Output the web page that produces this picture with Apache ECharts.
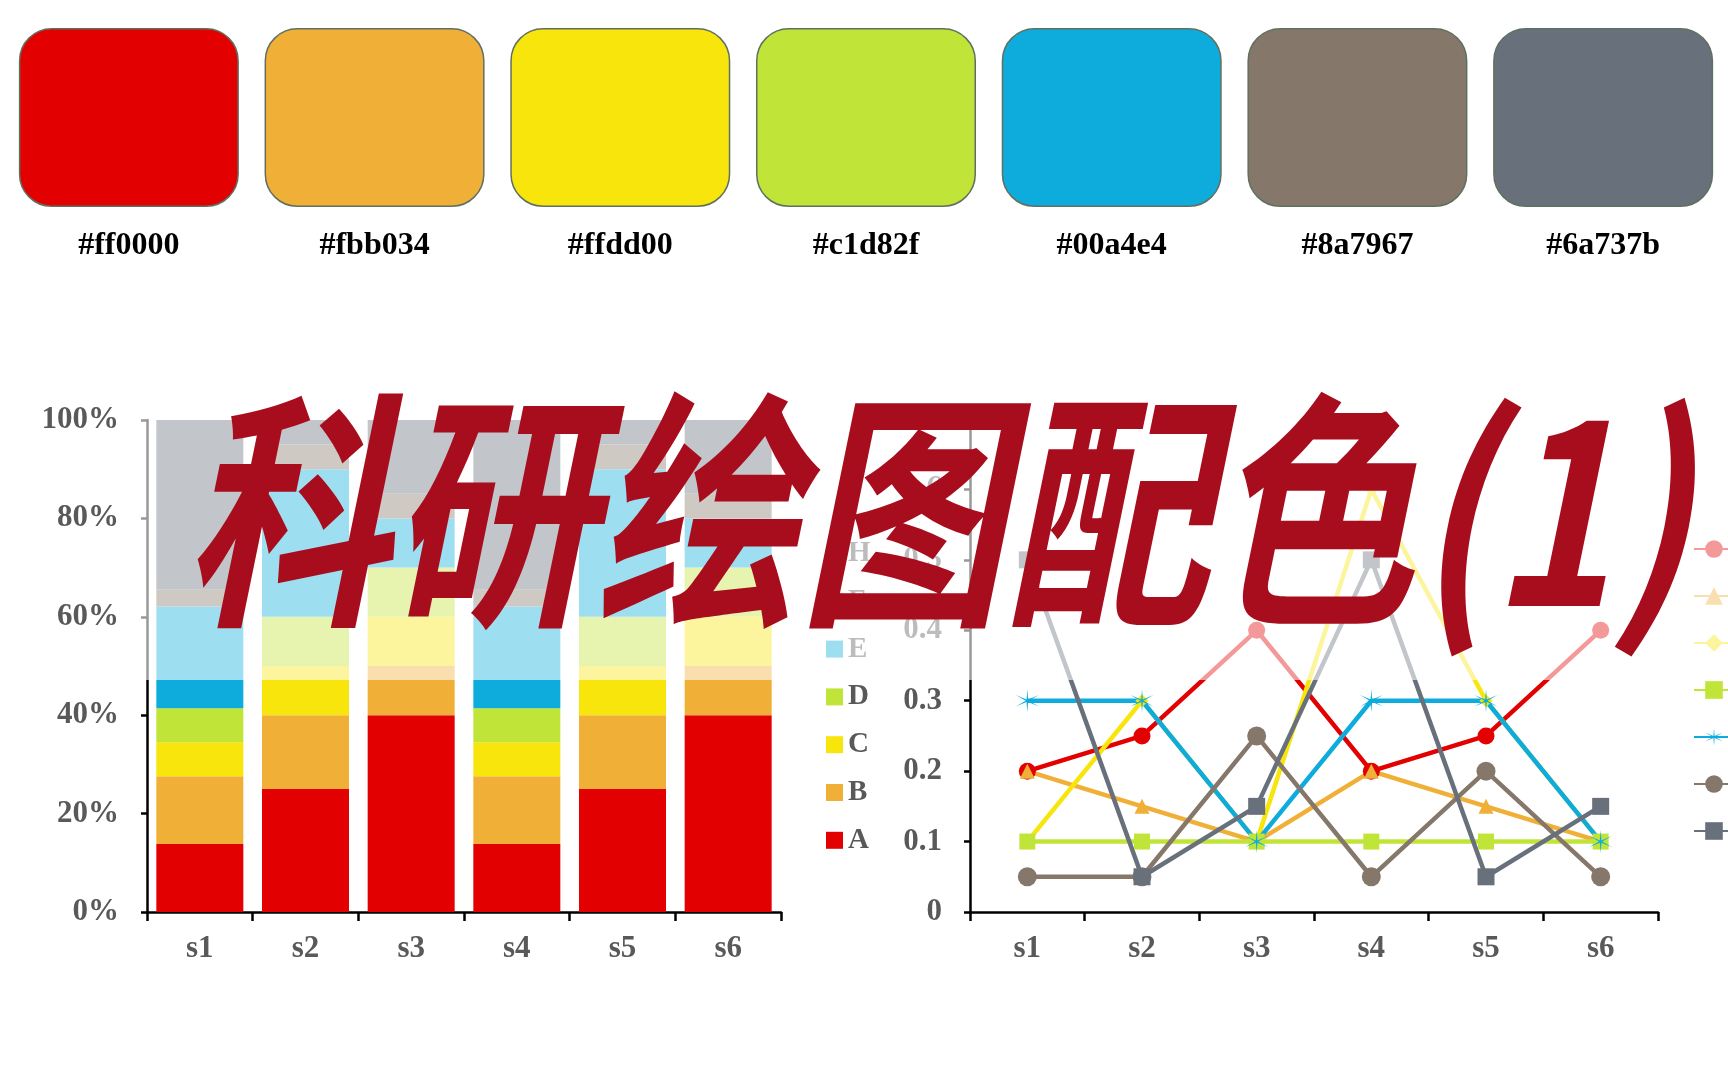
<!DOCTYPE html>
<html>
<head>
<meta charset="utf-8">
<script src="https://cdn.jsdelivr.net/npm/echarts@6/dist/echarts.min.js"></script>
<style>html,body{margin:0;padding:0;background:#fff;}#c{width:1728px;height:1080px;}</style>
</head>
<body>
<div id="c"></div>
<script>
// palette (rendered colours) and their hex labels
const palette = ['#e30000', '#f0b038', '#f8e50c', '#c1e438', '#0eacdc', '#85786a', '#67707b'];
const paletteLabels = ['#ff0000', '#fbb034', '#ffdd00', '#c1d82f', '#00a4e4', '#8a7967', '#6a737b'];
const swatchValues = [1, 1, 1, 1, 1, 1, 1];

// categories
const samples = ['s1', 's2', 's3', 's4', 's5', 's6'];

// stacked percentage bars (bottom to top)
const barNames = ['A', 'B', 'C', 'D', 'E', 'F', 'H'];
const barA = [13.8, 25, 40, 13.8, 25, 40];
const barB = [13.8, 15, 10, 13.8, 15, 10];
const barC = [6.9, 10, 10, 6.9, 10, 10];
const barD = [6.9, 10, 10, 6.9, 10, 10];
const barE = [20.7, 30, 10, 20.7, 30, 10];
const barF = [3.4, 5, 5, 3.4, 5, 5];
const barH = [34.5, 5, 15, 34.5, 5, 15];
const barData = [barA, barB, barC, barD, barE, barF, barH];
const barLegendOrder = ['H', 'F', 'E', 'D', 'C', 'B', 'A'];
const pctTicks = [0, 20, 40, 60, 80, 100];

// lines
const lineNames = ['a', 'b', 'c', 'd', 'e', 'f', 'h'];
const lineA = [0.2, 0.25, 0.4, 0.2, 0.25, 0.4];
const lineB = [0.2, 0.15, 0.1, 0.2, 0.15, 0.1];
const lineC = [0.1, 0.3, 0.1, 0.6, 0.3, 0.1];
const lineD = [0.1, 0.1, 0.1, 0.1, 0.1, 0.1];
const lineE = [0.3, 0.3, 0.1, 0.3, 0.3, 0.1];
const lineF = [0.05, 0.05, 0.25, 0.05, 0.2, 0.05];
const lineH = [0.5, 0.05, 0.15, 0.5, 0.05, 0.15];
const lineData = [lineA, lineB, lineC, lineD, lineE, lineF, lineH];

const titleText = '科研绘图配色(1)';

const asterisk = 'path://M10,0L10.6,8.96L18.66,5L11.2,10L18.66,15L10.6,11.04L10,20L9.4,11.04L1.34,15L8.8,10L1.34,5L9.4,8.96Z';
const lineSymbols = ['circle', 'triangle', 'diamond', 'rect', asterisk, 'circle', 'rect'];
const lineSymbolSizes = [17, 15, 13, 16, 23, 19, 17];

const serif = 'Liberation Serif';
const labelGray = '#595959';
const axisLabelStyle = {fontFamily: serif, fontWeight: 'bold', fontSize: 31, color: labelGray};

const chart = echarts.init(document.getElementById('c'), null, {renderer: 'canvas'});

const series = [];
series.push({
  type: 'bar', xAxisIndex: 0, yAxisIndex: 0,
  data: swatchValues.map((v, i) => ({value: v, itemStyle: {color: palette[i]}})),
  barWidth: 220,
  itemStyle: {borderRadius: 32, borderColor: '#607060', borderWidth: 1.5},
  label: {
    show: true, position: 'bottom', distance: 23,
    formatter: p => paletteLabels[p.dataIndex],
    fontFamily: serif, fontWeight: 'bold', fontSize: 32, color: '#000'
  },
  silent: true
});
barNames.forEach((n, i) => {
  series.push({
    name: n, type: 'bar', stack: 'pct', xAxisIndex: 1, yAxisIndex: 1,
    data: barData[i], barWidth: 87,
    itemStyle: {color: palette[i]}
  });
});
lineNames.forEach((n, i) => {
  series.push({
    name: n, type: 'line', xAxisIndex: 2, yAxisIndex: 2,
    data: lineData[i],
    symbol: lineSymbols[i], symbolSize: lineSymbolSizes[i],
    lineStyle: {width: 4.5, color: palette[i]},
    itemStyle: {color: palette[i]}
  });
});

const catAxis = (gi) => ({
  type: 'category', gridIndex: gi, data: samples, boundaryGap: true,
  axisLine: {show: true, lineStyle: {color: '#000', width: 2.5}},
  axisTick: {show: true, alignWithLabel: false, length: 9, lineStyle: {color: '#000', width: 2.5}},
  axisLabel: Object.assign({margin: 21}, axisLabelStyle),
  splitLine: {show: false}
});

const option = {
  animation: false,
  backgroundColor: '#fff',
  graphic: [{
    type: 'rect', z: 5, silent: true,
    shape: {x: 128, y: 300, width: 1600, height: 380},
    style: {fill: 'rgba(255,255,255,0.6)'}
  }, {
    type: 'text', z: 10, silent: true,
    x: 184, y: 386, scaleX: 1, scaleY: 1.22,
    style: {
      text: titleText,
      font: 'italic bold 205px "Noto Sans CJK SC"',
      fill: '#a80d1e',
      textVerticalAlign: 'top'
    }
  }],
  grid: [
    {left: 6, right: 2, top: 28, height: 179},
    {left: 147, top: 420, width: 634, height: 492},
    {left: 970, top: 419, width: 688, height: 493}
  ],
  xAxis: [
    {type: 'category', gridIndex: 0, data: paletteLabels, show: false},
    catAxis(1),
    catAxis(2)
  ],
  yAxis: [
    {type: 'value', gridIndex: 0, min: 0, max: 1, show: false},
    {
      type: 'value', gridIndex: 1, min: pctTicks[0], max: pctTicks[pctTicks.length - 1], interval: 20,
      axisLine: {show: true, lineStyle: {color: '#000', width: 2.5}},
      axisTick: {show: true, length: 6, lineStyle: {color: '#000', width: 2.5}},
      axisLabel: Object.assign({margin: 28, formatter: '{value}%'}, axisLabelStyle),
      splitLine: {show: false}
    },
    {
      type: 'value', gridIndex: 2, min: 0, max: 0.7, interval: 0.1,
      axisLine: {show: true, lineStyle: {color: '#000', width: 2.5}},
      axisTick: {show: true, length: 6, lineStyle: {color: '#000', width: 2.5}},
      axisLabel: Object.assign({margin: 28, formatter: v => v === 0 ? '0' : v.toFixed(1)}, axisLabelStyle),
      splitLine: {show: false}
    }
  ],
  legend: [
    {
      data: barLegendOrder, orient: 'vertical', left: 821, top: 534,
      icon: 'rect', itemWidth: 17, itemHeight: 17, itemGap: 18.8,
      textStyle: {fontFamily: serif, fontWeight: 'bold', fontSize: 29, lineHeight: 28, color: labelGray},
      selectedMode: false
    },
    {
      data: lineNames, orient: 'vertical', left: 1688, top: 530,
      itemWidth: 40, itemHeight: 22, itemGap: 19,
      textStyle: {fontFamily: serif, fontWeight: 'bold', fontSize: 28, lineHeight: 28, color: labelGray},
      selectedMode: false
    }
  ],
  series: series
};
chart.setOption(option);
</script>
</body>
</html>
